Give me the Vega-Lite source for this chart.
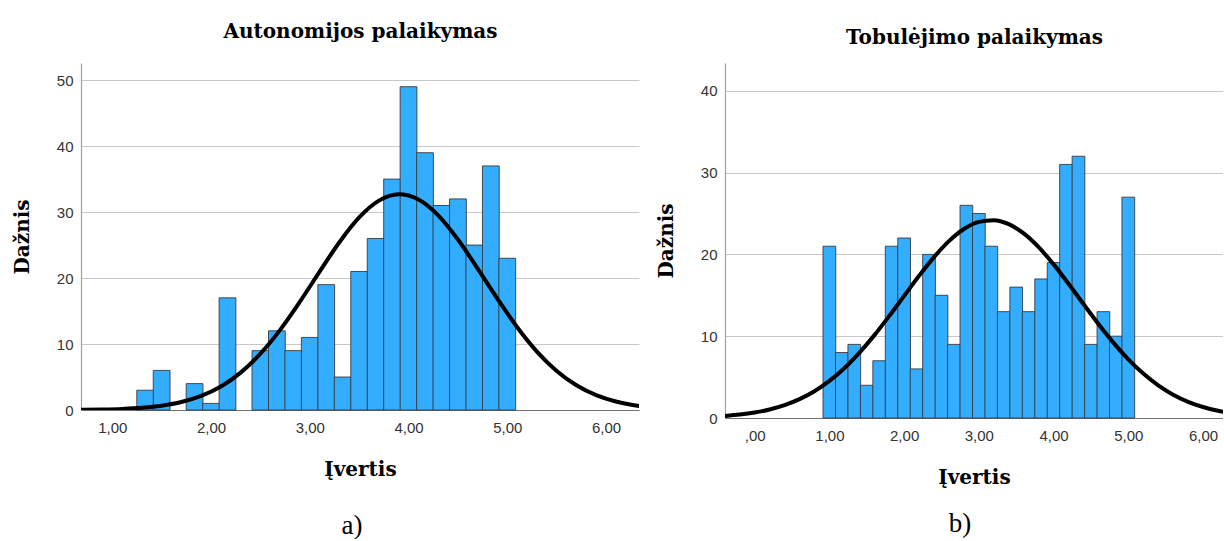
{
  "$schema": "https://vega.github.io/schema/vega-lite/v6.json",
  "background": "white",
  "padding": {"left": 12, "top": 21, "right": 0, "bottom": 0},
  "spacing": 17,
  "config": {
    "view": {"stroke": null},
    "axis": {
      "labelFont": "Liberation Sans",
      "labelFontSize": 15,
      "labelColor": "#333333",
      "ticks": false,
      "titleFont": "DejaVu Serif",
      "titleFontWeight": "bold",
      "titleFontSize": 20,
      "titleColor": "#000000"
    },
    "title": {"font": "Liberation Serif", "fontSize": 27, "fontWeight": "normal", "color": "#000000"}
  },
  "datasets": {
    "autoBars": [
      {"v": 1.3333, "n": 3}, {"v": 1.5, "n": 6}, {"v": 1.8333, "n": 4}, {"v": 2.0, "n": 1},
      {"v": 2.1667, "n": 17}, {"v": 2.5, "n": 9}, {"v": 2.6667, "n": 12}, {"v": 2.8333, "n": 9},
      {"v": 3.0, "n": 11}, {"v": 3.1667, "n": 19}, {"v": 3.3333, "n": 5}, {"v": 3.5, "n": 21},
      {"v": 3.6667, "n": 26}, {"v": 3.8333, "n": 35}, {"v": 4.0, "n": 49}, {"v": 4.1667, "n": 39},
      {"v": 4.3333, "n": 31}, {"v": 4.5, "n": 32}, {"v": 4.6667, "n": 25}, {"v": 4.8333, "n": 37},
      {"v": 5.0, "n": 23}
    ],
    "autoCurve": [
      {"v": 0.5, "n": 0.013}, {"v": 0.7, "n": 0.031}, {"v": 0.9, "n": 0.072}, {"v": 1.1, "n": 0.157},
      {"v": 1.3, "n": 0.327}, {"v": 1.5, "n": 0.645}, {"v": 1.7, "n": 1.204}, {"v": 1.9, "n": 2.13},
      {"v": 2.1, "n": 3.57}, {"v": 2.3, "n": 5.67}, {"v": 2.5, "n": 8.53}, {"v": 2.7, "n": 12.15},
      {"v": 2.9, "n": 16.41}, {"v": 3.1, "n": 20.98}, {"v": 3.3, "n": 25.43}, {"v": 3.5, "n": 29.19},
      {"v": 3.7, "n": 31.74}, {"v": 3.9, "n": 32.7}, {"v": 4.1, "n": 31.91}, {"v": 4.3, "n": 29.51},
      {"v": 4.5, "n": 25.84}, {"v": 4.7, "n": 21.44}, {"v": 4.9, "n": 16.86}, {"v": 5.1, "n": 12.55},
      {"v": 5.3, "n": 8.86}, {"v": 5.5, "n": 5.92}, {"v": 5.7, "n": 3.75}, {"v": 5.9, "n": 2.25},
      {"v": 6.1, "n": 1.28}, {"v": 6.3, "n": 0.69}, {"v": 6.5, "n": 0.35}
    ],
    "tobBars": [
      {"v": 1.0, "n": 21}, {"v": 1.1667, "n": 8}, {"v": 1.3333, "n": 9}, {"v": 1.5, "n": 4},
      {"v": 1.6667, "n": 7}, {"v": 1.8333, "n": 21}, {"v": 2.0, "n": 22}, {"v": 2.1667, "n": 6},
      {"v": 2.3333, "n": 20}, {"v": 2.5, "n": 15}, {"v": 2.6667, "n": 9}, {"v": 2.8333, "n": 26},
      {"v": 3.0, "n": 25}, {"v": 3.1667, "n": 21}, {"v": 3.3333, "n": 13}, {"v": 3.5, "n": 16},
      {"v": 3.6667, "n": 13}, {"v": 3.8333, "n": 17}, {"v": 4.0, "n": 19}, {"v": 4.1667, "n": 31},
      {"v": 4.3333, "n": 32}, {"v": 4.5, "n": 9}, {"v": 4.6667, "n": 13}, {"v": 4.8333, "n": 10},
      {"v": 5.0, "n": 27}
    ],
    "tobCurve": [
      {"v": -0.4, "n": 0.256}, {"v": -0.2, "n": 0.42}, {"v": 0.0, "n": 0.67}, {"v": 0.2, "n": 1.04},
      {"v": 0.4, "n": 1.57}, {"v": 0.6, "n": 2.3}, {"v": 0.8, "n": 3.27}, {"v": 1.0, "n": 4.53},
      {"v": 1.2, "n": 6.09}, {"v": 1.4, "n": 7.96}, {"v": 1.6, "n": 10.1}, {"v": 1.8, "n": 12.46},
      {"v": 2.0, "n": 14.93}, {"v": 2.2, "n": 17.38}, {"v": 2.4, "n": 19.67}, {"v": 2.6, "n": 21.62},
      {"v": 2.8, "n": 23.1}, {"v": 3.0, "n": 23.98}, {"v": 3.2, "n": 24.19}, {"v": 3.4, "n": 23.7},
      {"v": 3.6, "n": 22.57}, {"v": 3.8, "n": 20.89}, {"v": 4.0, "n": 18.78}, {"v": 4.2, "n": 16.41},
      {"v": 4.4, "n": 13.93}, {"v": 4.6, "n": 11.49}, {"v": 4.8, "n": 9.21}, {"v": 5.0, "n": 7.17},
      {"v": 5.2, "n": 5.43}, {"v": 5.4, "n": 3.99}, {"v": 5.6, "n": 2.85}, {"v": 5.8, "n": 1.98},
      {"v": 6.0, "n": 1.34}, {"v": 6.2, "n": 0.88}, {"v": 6.4, "n": 0.56}
    ]
  },
  "hconcat": [
    {
      "width": 558,
      "height": 347,
      "title": {"text": "a)", "orient": "bottom", "offset": 34, "dx": -8, "frame": "group", "anchor": "middle"},
      "resolve": {"axis": {"x": "independent"}},
      "layer": [
        {
          "data": {"name": "autoBars"},
          "mark": {"type": "bar", "width": 16.77, "color": "#33adff", "stroke": "#3a3a3a", "strokeWidth": 0.9},
          "encoding": {
            "x": {
              "field": "v", "type": "quantitative",
              "scale": {"domain": [0.734, 6.283], "nice": false, "zero": false},
              "axis": {
                "orient": "bottom", "title": "Įvertis", "values": [1, 2, 3, 4, 5, 6],
                "labelExpr": "datum.value == 0 ? ',00' : replace(format(datum.value, '.2f'), '.', ',')",
                "grid": false, "domainColor": "#707070", "domainWidth": 1.2,
                "labelPadding": 10, "titlePadding": 24
              }
            },
            "y": {
              "field": "n", "type": "quantitative",
              "scale": {"domain": [0, 52.6], "nice": false},
              "axis": {
                "title": "Dažnis", "values": [0, 10, 20, 30, 40, 50], "format": "d",
                "grid": true, "gridColor": "#c8c8c8", "gridWidth": 1.2,
                "domainColor": "#a0a0a0", "domainWidth": 1.2,
                "labelPadding": 8, "titlePadding": 24
              }
            }
          }
        },
        {
          "data": {"name": "autoCurve"},
          "mark": {"type": "line", "color": "#000000", "strokeWidth": 4, "interpolate": "monotone", "clip": true},
          "encoding": {
            "x": {
              "field": "v", "type": "quantitative",
              "scale": {"domain": [0.734, 6.283], "nice": false, "zero": false},
              "axis": {
                "orient": "top", "title": "Autonomijos palaikymas", "labels": false, "ticks": false,
                "domain": false, "grid": false, "titlePadding": 22
              }
            },
            "y": {"field": "n", "type": "quantitative", "title": "Dažnis"}
          }
        }
      ]
    },
    {
      "width": 498,
      "height": 355,
      "title": {"text": "b)", "orient": "bottom", "offset": 24, "dx": -14, "frame": "group", "anchor": "middle"},
      "resolve": {"axis": {"x": "independent"}},
      "layer": [
        {
          "data": {"name": "tobBars"},
          "mark": {"type": "bar", "width": 12.72, "color": "#33adff", "stroke": "#3a3a3a", "strokeWidth": 0.9},
          "encoding": {
            "x": {
              "field": "v", "type": "quantitative",
              "scale": {"domain": [-0.33, 6.2], "nice": false, "zero": false},
              "axis": {
                "orient": "bottom", "title": "Įvertis", "values": [0, 1, 2, 3, 4, 5, 6],
                "labelExpr": "datum.value == 0 ? ',00' : replace(format(datum.value, '.2f'), '.', ',')",
                "grid": false, "domainColor": "#707070", "domainWidth": 1.2,
                "labelPadding": 10, "titlePadding": 24
              }
            },
            "y": {
              "field": "n", "type": "quantitative",
              "scale": {"domain": [0, 43.4], "nice": false},
              "axis": {
                "title": "Dažnis", "values": [0, 10, 20, 30, 40], "format": "d",
                "grid": true, "gridColor": "#c8c8c8", "gridWidth": 1.2,
                "domainColor": "#a0a0a0", "domainWidth": 1.2,
                "labelPadding": 8, "titlePadding": 24
              }
            }
          }
        },
        {
          "data": {"name": "tobCurve"},
          "mark": {"type": "line", "color": "#000000", "strokeWidth": 4, "interpolate": "monotone", "clip": true},
          "encoding": {
            "x": {
              "field": "v", "type": "quantitative",
              "scale": {"domain": [-0.33, 6.2], "nice": false, "zero": false},
              "axis": {
                "orient": "top", "title": "Tobulėjimo palaikymas", "labels": false, "ticks": false,
                "domain": false, "grid": false, "titlePadding": 16
              }
            },
            "y": {"field": "n", "type": "quantitative", "title": "Dažnis"}
          }
        }
      ]
    }
  ]
}
